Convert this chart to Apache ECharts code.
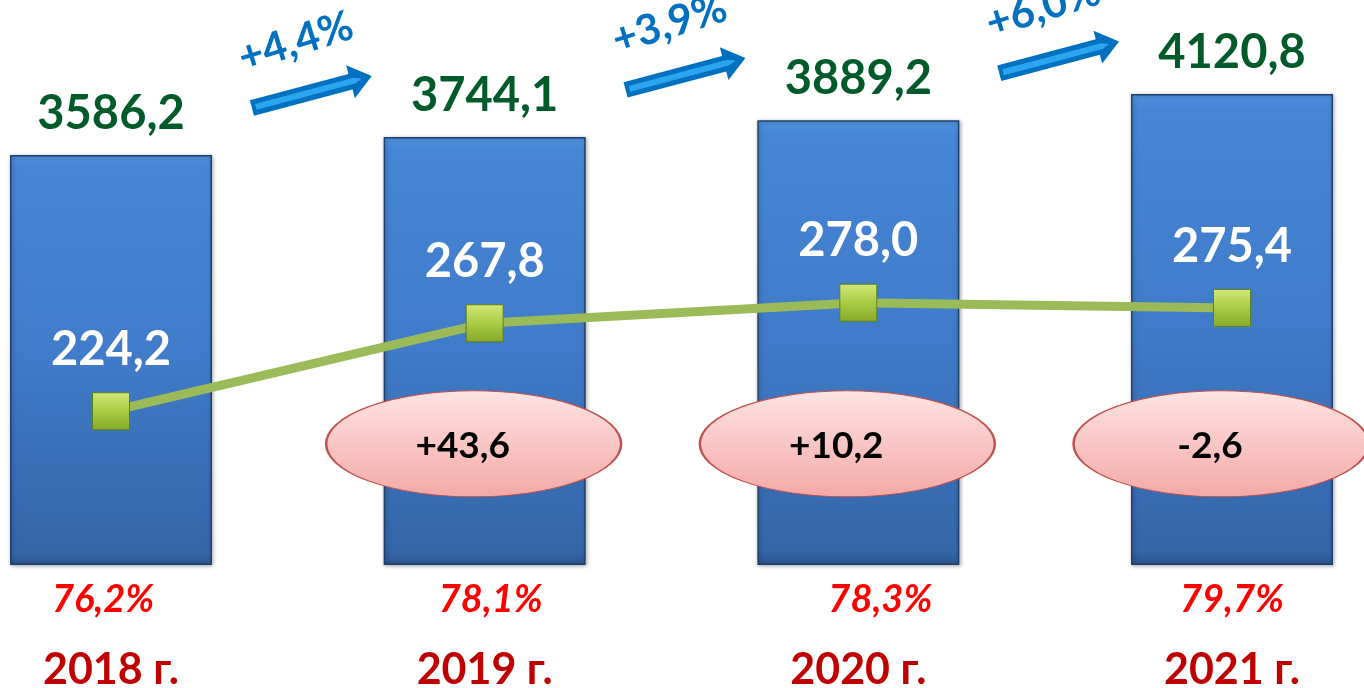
<!DOCTYPE html>
<html>
<head>
<meta charset="utf-8">
<script src="https://cdn.jsdelivr.net/npm/echarts@6/dist/echarts.min.js"></script>
<style>
  html, body { margin: 0; padding: 0; background: #fff; }
  #chart { width: 1364px; height: 688px; }
</style>
</head>
<body>
<div id="chart"></div>
<script>
// данные
const years = ['2018 г.', '2019 г.', '2020 г.', '2021 г.']
const totals = [3586.2, 3744.1, 3889.2, 4120.8]
const subValues = [224.2, 267.8, 278.0, 275.4]
const subDiffs = [null, 43.6, 10.2, -2.6]
const shares = [76.2, 78.1, 78.3, 79.7]
const growth = [null, 4.4, 3.9, 6.0]

const FONT = 'Lato, "Open Sans", sans-serif'
const fmt = v => v.toFixed(1).replace('.', ',')
const signed = v => (v > 0 ? '+' : '') + fmt(v)

// layout helpers (not data)
const shareShift = [-8, 6, 22, 0]
const ellipseLevel = 1060

const dom = document.getElementById('chart')
const chart = echarts.init(dom)

const option = {
  animation: false,
  grid: {
    left: 111,
    right: 132,
    top: 0,
    bottom: 123,
    containLabel: false,
    outerBoundsMode: 'none'
  },
  xAxis: {
    type: 'category',
    data: years,
    boundaryGap: false,
    axisLine: { show: false },
    axisTick: { show: false },
    splitLine: { show: false },
    axisLabel: {
      margin: 84,
      fontFamily: FONT,
      fontSize: 43,
      fontWeight: 'bold',
      color: '#c00000'
    }
  },
  yAxis: [
    { type: 'value', min: 0, max: 4942, show: false, splitLine: { show: false } },
    { type: 'value', min: 148, max: 428, show: false, splitLine: { show: false } }
  ],
  series: [
    {
      name: 'total',
      type: 'bar',
      data: totals,
      barWidth: 202,
      clip: false,
      z: 2,
      itemStyle: {
        color: new echarts.graphic.LinearGradient(0, 0, 0, 1, [
          { offset: 0, color: '#5094e2' },
          { offset: 0.03, color: '#4686d6' },
          { offset: 0.5, color: '#3f7bc8' },
          { offset: 0.97, color: '#3565a8' },
          { offset: 1, color: '#2b5590' }
        ]),
        borderColor: '#20406c',
        borderWidth: 1.5,
        shadowColor: 'rgba(0,0,0,0.35)',
        shadowBlur: 4,
        shadowOffsetX: 1,
        shadowOffsetY: 1
      },
      label: {
        show: true,
        position: 'top',
        distance: 18,
        formatter: p => fmt(p.value),
        fontFamily: FONT,
        fontSize: 47,
        fontWeight: 'bold',
        color: '#005a2a'
      }
    },
    {
      name: 'share',
      type: 'bar',
      data: totals.map((v, i) => ({
        value: v,
        label: { offset: [shareShift[i], 0] }
      })),
      barWidth: 202,
      barGap: '-100%',
      clip: false,
      z: 1,
      itemStyle: { color: 'rgba(0,0,0,0)' },
      label: {
        show: true,
        position: 'bottom',
        distance: 16,
        formatter: p => fmt(shares[p.dataIndex]) + '%',
        fontFamily: FONT,
        fontSize: 38,
        fontStyle: 'italic',
        fontWeight: 'bold',
        color: '#ff0000'
      }
    },
    {
      name: 'sub',
      type: 'line',
      yAxisIndex: 1,
      data: subValues,
      z: 5,
      symbol: 'rect',
      symbolSize: 37,
      lineStyle: { color: '#9bbb59', width: 9 },
      itemStyle: {
        color: new echarts.graphic.LinearGradient(0, 0, 0, 1, [
          { offset: 0, color: '#d2e87a' },
          { offset: 0.5, color: '#a9cc45' },
          { offset: 1, color: '#86aa28' }
        ]),
        borderColor: '#5f7d1c',
        borderWidth: 1
      },
      label: {
        show: true,
        position: 'top',
        distance: 19,
        formatter: p => fmt(p.value),
        fontFamily: FONT,
        fontSize: 47,
        fontWeight: 'bold',
        color: '#ffffff'
      }
    },
    {
      name: 'diff',
      type: 'scatter',
      data: subDiffs.map((d, i) => (d === null ? null : [i, ellipseLevel, d])),
      symbol: 'circle',
      symbolSize: [295, 106],
      symbolOffset: [-11, 0],
      clip: false,
      z: 6,
      itemStyle: {
        color: new echarts.graphic.LinearGradient(0, 0, 0, 1, [
          { offset: 0, color: '#fde4e3' },
          { offset: 1, color: '#f4a9a6' }
        ]),
        borderColor: '#c0504d',
        borderWidth: 1.5,
        opacity: 1
      },
      label: {
        show: true,
        position: 'inside',
        offset: [-11, 2],
        formatter: p => signed(p.value[2]),
        fontFamily: FONT,
        fontSize: 37,
        fontWeight: 'bold',
        color: '#000000'
      }
    },
    {
      name: 'growth',
      type: 'custom',
      data: growth.map((g, i) => [i, g]),
      z: 7,
      clip: false,
      renderItem: (params, api) => {
        const i = api.value(0)
        const g = growth[i]
        if (g === null) return null
        const p0 = api.coord([i - 1, totals[i - 1]])
        const p1 = api.coord([i, totals[i]])
        const cx = (p0[0] + p1[0]) / 2 + 14
        const cy = p0[1] - 63
        const rot = 0.26
        return {
          type: 'group',
          children: [
            {
              type: 'group',
              x: cx,
              y: cy,
              rotation: rot,
              children: [
                {
                  type: 'polygon',
                  shape: { points: [[-62, -8], [40, -8], [40, -17], [62, 0], [40, 17], [40, 8], [-62, 8]] },
                  style: { fill: '#0070c0' }
                },
                {
                  type: 'polygon',
                  shape: { points: [[-58, -3], [44, -3], [52, 0], [44, 3], [-58, 3]] },
                  style: { fill: '#2aa6f0' }
                }
              ]
            },
            {
              type: 'text',
              x: cx - 16,
              y: cy - 50,
              rotation: 0.3,
              style: {
                text: '+' + fmt(g) + '%',
                fill: '#0070c0',
                font: 'bold 42px ' + FONT,
                align: 'center',
                verticalAlign: 'middle'
              }
            }
          ]
        }
      }
    }
  ]
}

chart.setOption(option)
window.addEventListener('resize', () => chart.resize())
</script>
</body>
</html>
